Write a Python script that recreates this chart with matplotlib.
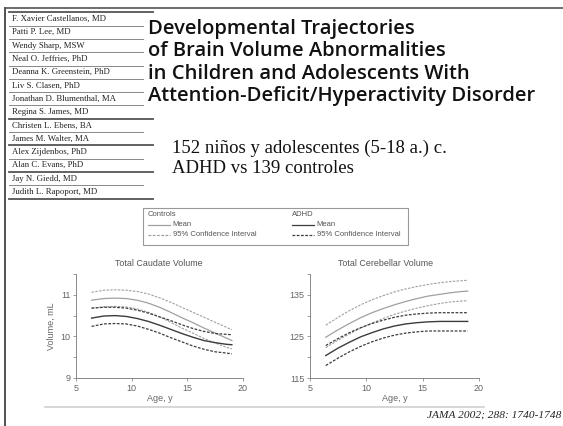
import matplotlib
matplotlib.use("Agg")
import matplotlib.pyplot as plt
from matplotlib.lines import Line2D
from matplotlib.patches import Rectangle

W, H = 563, 426

# autores
authors = [
    "F. Xavier Castellanos, MD", "Patti P. Lee, MD", "Wendy Sharp, MSW",
    "Neal O. Jeffries, PhD", "Deanna K. Greenstein, PhD", "Liv S. Clasen, PhD",
    "Jonathan D. Blumenthal, MA", "Regina S. James, MD", "Christen L. Ebens, BA",
    "James M. Walter, MA", "Alex Zijdenbos, PhD", "Alan C. Evans, PhD",
    "Jay N. Giedd, MD", "Judith L. Rapoport, MD",
]
title_lines = [
    "Developmental Trajectories",
    "of Brain Volume Abnormalities",
    "in Children and Adolescents With",
    "Attention-Deficit/Hyperactivity Disorder",
]
subtitle_lines = ["152 niños y adolescentes (5-18 a.) c.", "ADHD vs 139 controles"]

# edades (años)
age = [6.4, 7.5, 8.5, 9.5, 10.5, 11.5, 12.5, 13.5, 14.5, 15.5, 16.5, 17.5, 18.5, 19.0]

# caudado total (mL)
caud_ctrl_mean = [10.87, 10.91, 10.92, 10.91, 10.87, 10.80, 10.70, 10.58, 10.45, 10.33, 10.20, 10.08, 9.96, 9.90]
caud_ctrl_hi = [11.06, 11.11, 11.12, 11.11, 11.08, 11.02, 10.93, 10.82, 10.70, 10.58, 10.46, 10.34, 10.22, 10.16]
caud_ctrl_lo = [10.68, 10.71, 10.72, 10.71, 10.66, 10.58, 10.47, 10.34, 10.20, 10.08, 9.95, 9.84, 9.74, 9.70]
caud_adhd_mean = [10.44, 10.49, 10.50, 10.48, 10.43, 10.36, 10.27, 10.17, 10.07, 9.98, 9.90, 9.85, 9.81, 9.80]
caud_adhd_hi = [10.68, 10.70, 10.70, 10.68, 10.63, 10.56, 10.47, 10.38, 10.28, 10.19, 10.12, 10.07, 10.05, 10.04]
caud_adhd_lo = [10.24, 10.30, 10.31, 10.30, 10.25, 10.17, 10.08, 9.97, 9.87, 9.77, 9.69, 9.63, 9.60, 9.58]

# cerebelo total (mL)
cereb_ctrl_mean = [124.8, 126.6, 128.1, 129.5, 130.7, 131.7, 132.6, 133.4, 134.1, 134.7, 135.1, 135.5, 135.8, 135.9]
cereb_ctrl_hi = [127.7, 129.6, 131.2, 132.6, 133.8, 134.8, 135.7, 136.4, 137.0, 137.5, 137.9, 138.2, 138.4, 138.5]
cereb_ctrl_lo = [122.3, 124.1, 125.6, 127.0, 128.2, 129.3, 130.3, 131.1, 131.8, 132.4, 132.9, 133.3, 133.5, 133.6]
cereb_adhd_mean = [120.4, 122.2, 123.6, 124.9, 125.9, 126.8, 127.5, 128.0, 128.3, 128.5, 128.6, 128.6, 128.6, 128.6]
cereb_adhd_hi = [122.8, 124.5, 125.9, 127.1, 128.1, 128.9, 129.6, 130.1, 130.4, 130.6, 130.7, 130.7, 130.7, 130.7]
cereb_adhd_lo = [118.0, 119.8, 121.3, 122.6, 123.7, 124.6, 125.3, 125.8, 126.1, 126.3, 126.3, 126.3, 126.3, 126.3]

CTRL = "#a0a0a0"
ADHD = "#3c3c3c"
DASH = (0, (2.2, 1.2))
GREY_TXT = "#666666"


def fx(x):
    return x / W


def fy(y):
    return 1 - y / H


def hline(fig, x0, x1, y, color, lw):
    fig.add_artist(Line2D([fx(x0), fx(x1)], [fy(y), fy(y)], color=color, lw=lw,
                          transform=fig.transFigure))


fig = plt.figure(figsize=(W / 100, H / 100), dpi=100)
fig.patch.set_facecolor("white")

# marco
fig.add_artist(Line2D([fx(5), fx(5)], [fy(8), fy(426)], color="#333333", lw=1.2,
                      transform=fig.transFigure))
hline(fig, 5, 563, 8, "#555555", 1.2)

# lista de autores
for i, name in enumerate(authors):
    fig.text(fx(12), fy(19 + 13.3 * i), name, fontsize=6.3, family="Liberation Serif",
             color="#222222", va="center", ha="left")
for k in range(15):
    thick = k in (0, 8, 10, 12, 14)
    hline(fig, 9, 153 if thick else 143, 12.3 + 13.3 * k,
          "#555555" if thick else "#888888", 1.3 if thick else 0.7)

# título
for i, line in enumerate(title_lines):
    fig.text(fx(148), fy(29 + 22.5 * i), line, fontsize=14.5, family="Open Sans",
             weight="semibold", color="#111111", va="center", ha="left")

for i, line in enumerate(subtitle_lines):
    fig.text(fx(172), fy(148 + 20.5 * i), line, fontsize=13.5, family="Liberation Serif",
             color="#111111", va="center", ha="left")

# leyenda
fig.add_artist(Rectangle((fx(143), fy(245)), fx(408) - fx(143), fy(208) - fy(245),
                         fill=False, ec="#999999", lw=0.8, transform=fig.transFigure))
lf = dict(fontsize=5.5, family="Liberation Sans", color="#555555", va="center", ha="left")
for x0, head, col in [(148, "Controls", CTRL), (292, "ADHD", ADHD)]:
    fig.text(fx(x0), fy(215), head, **lf)
    fig.add_artist(Line2D([fx(x0), fx(x0 + 22)], [fy(225), fy(225)], color=col, lw=0.9,
                          transform=fig.transFigure))
    fig.text(fx(x0 + 24), fy(225), "Mean", **lf)
    fig.add_artist(Line2D([fx(x0), fx(x0 + 22)], [fy(235), fy(235)], color=col, lw=0.9,
                          ls=DASH, transform=fig.transFigure))
    fig.text(fx(x0 + 25), fy(235), "95% Confidence Interval", **lf)


def panel(rect, mean_c, hi_c, lo_c, mean_a, hi_a, lo_a, ylim, major, minor, ylabel):
    ax = fig.add_axes(rect)
    ax.plot(age, hi_c, color=CTRL, lw=0.8, ls=DASH)
    ax.plot(age, lo_c, color=CTRL, lw=0.8, ls=DASH)
    ax.plot(age, mean_c, color=CTRL, lw=0.9)
    ax.plot(age, hi_a, color=ADHD, lw=0.9, ls=DASH)
    ax.plot(age, lo_a, color=ADHD, lw=0.9, ls=DASH)
    ax.plot(age, mean_a, color=ADHD, lw=1.0)
    ax.set_xlim(5, 20)
    ax.set_ylim(*ylim)
    ax.set_xticks([5, 10, 15, 20])
    ax.set_yticks(major)
    ax.set_yticks(minor, minor=True)
    for s in ("top", "right"):
        ax.spines[s].set_visible(False)
    for s in ("left", "bottom"):
        ax.spines[s].set_color("#777777")
        ax.spines[s].set_linewidth(0.6)
    ax.tick_params(which="both", direction="out", length=2.5, width=0.5, color="#777777",
                   labelsize=6.5, labelcolor=GREY_TXT, pad=1.5)
    for lab in ax.get_xticklabels() + ax.get_yticklabels():
        lab.set_family("Liberation Sans")
    ax.set_xlabel("Age, y", fontsize=6.5, family="Liberation Sans", color=GREY_TXT, labelpad=1)
    if ylabel:
        ax.set_ylabel(ylabel, fontsize=6.5, family="Liberation Sans", color=GREY_TXT, labelpad=3)
    return ax


panel([fx(76), fy(378), fx(243) - fx(76), fy(274) - fy(378)],
      caud_ctrl_mean, caud_ctrl_hi, caud_ctrl_lo, caud_adhd_mean, caud_adhd_hi, caud_adhd_lo,
      (9, 11.5), [9, 10, 11], [9.5, 10.5, 11.5], "Volume, mL")
panel([fx(310), fy(378), fx(479) - fx(310), fy(274) - fy(378)],
      cereb_ctrl_mean, cereb_ctrl_hi, cereb_ctrl_lo, cereb_adhd_mean, cereb_adhd_hi, cereb_adhd_lo,
      (115, 140), [115, 125, 135], [120, 130, 140], None)

tf = dict(fontsize=6.4, family="Liberation Sans", color="#555555", va="center", ha="left")
fig.text(fx(115), fy(264), "Total Caudate Volume", **tf)
fig.text(fx(338), fy(264), "Total Cerebellar Volume", **tf)

hline(fig, 45, 484, 407, "#d0d0d0", 1.2)

fig.text(fx(561), fy(415), "JAMA 2002; 288: 1740-1748", fontsize=8.2, family="Liberation Serif",
         style="italic", color="#222222", va="center", ha="right")

fig.savefig("out.png", dpi=100)
